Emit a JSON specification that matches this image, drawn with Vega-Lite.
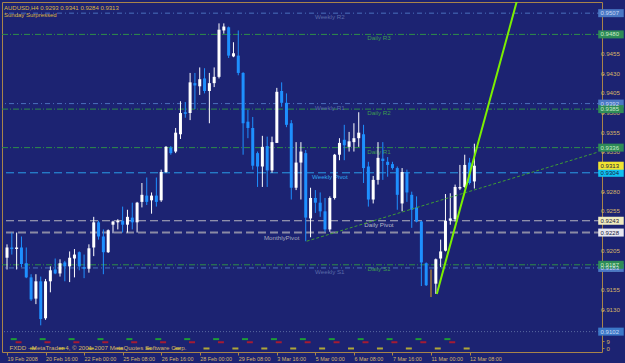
{
"$schema": "https://vega.github.io/schema/vega-lite/v6.json",
"width": 600, "height": 350,
"autosize": {"type": "none"},
"padding": {"left": 2, "top": 2, "right": 23, "bottom": 11},
"background": "#1c2372",
"config": {"view": {"stroke": "#a8844a", "strokeWidth": 1}, "font": "Liberation Sans"},
"title": {"text": ["AUDUSD,H4  0.9293 0.9341 0.9284 0.9313", "Sunday Surpressed"], "anchor": "start", "frame": "group", "offset": -16, "baseline": "top", "fontSize": 6, "fontWeight": "normal", "color": "#dcb444", "lineHeight": 7.5, "dx": 2},
"datasets": {
"candles": [
{"i":0,"o":0.9196,"h":0.9213,"l":0.9181,"c":0.9209},
{"i":1,"o":0.9209,"h":0.9228,"l":0.9200,"c":0.9207},
{"i":2,"o":0.9207,"h":0.9228,"l":0.9181,"c":0.9209},
{"i":3,"o":0.9209,"h":0.9223,"l":0.9184,"c":0.9188},
{"i":4,"o":0.9189,"h":0.9209,"l":0.9170,"c":0.9171},
{"i":5,"o":0.9171,"h":0.9175,"l":0.9141,"c":0.9143},
{"i":6,"o":0.9144,"h":0.9175,"l":0.9137,"c":0.9166},
{"i":7,"o":0.9166,"h":0.9172,"l":0.9110,"c":0.9118},
{"i":8,"o":0.9119,"h":0.9169,"l":0.9117,"c":0.9166},
{"i":9,"o":0.9166,"h":0.9185,"l":0.9152,"c":0.9180},
{"i":10,"o":0.9181,"h":0.9195,"l":0.9175,"c":0.9176},
{"i":11,"o":0.9176,"h":0.9194,"l":0.9172,"c":0.9189},
{"i":12,"o":0.9190,"h":0.9192,"l":0.9166,"c":0.9185},
{"i":13,"o":0.9185,"h":0.9204,"l":0.9165,"c":0.9196},
{"i":14,"o":0.9195,"h":0.9207,"l":0.9171,"c":0.9200},
{"i":15,"o":0.9203,"h":0.9204,"l":0.9180,"c":0.9185},
{"i":16,"o":0.9184,"h":0.9200,"l":0.9170,"c":0.9182},
{"i":17,"o":0.9182,"h":0.9213,"l":0.9177,"c":0.9208},
{"i":18,"o":0.9209,"h":0.9248,"l":0.9198,"c":0.9241},
{"i":19,"o":0.9241,"h":0.9243,"l":0.9219,"c":0.9223},
{"i":20,"o":0.9223,"h":0.9232,"l":0.9175,"c":0.9203},
{"i":21,"o":0.9203,"h":0.9232,"l":0.9202,"c":0.9231},
{"i":22,"o":0.9238,"h":0.9243,"l":0.9227,"c":0.9242},
{"i":23,"o":0.9241,"h":0.9245,"l":0.9232,"c":0.9243},
{"i":24,"o":0.9243,"h":0.9261,"l":0.9228,"c":0.9238},
{"i":25,"o":0.9238,"h":0.9257,"l":0.9228,"c":0.9248},
{"i":26,"o":0.9247,"h":0.9266,"l":0.9232,"c":0.9241},
{"i":27,"o":0.9241,"h":0.9267,"l":0.9228,"c":0.9266},
{"i":28,"o":0.9267,"h":0.9291,"l":0.9260,"c":0.9276},
{"i":29,"o":0.9275,"h":0.9298,"l":0.9263,"c":0.9267},
{"i":30,"o":0.9269,"h":0.9279,"l":0.9252,"c":0.9275},
{"i":31,"o":0.9275,"h":0.9298,"l":0.9261,"c":0.9267},
{"i":32,"o":0.9269,"h":0.9308,"l":0.9267,"c":0.9305},
{"i":33,"o":0.9305,"h":0.9338,"l":0.9304,"c":0.9337},
{"i":34,"o":0.9336,"h":0.9338,"l":0.9327,"c":0.9329},
{"i":35,"o":0.9331,"h":0.9361,"l":0.9329,"c":0.9355},
{"i":36,"o":0.9353,"h":0.9395,"l":0.9347,"c":0.9380},
{"i":37,"o":0.9381,"h":0.9394,"l":0.9374,"c":0.9379},
{"i":38,"o":0.9380,"h":0.9431,"l":0.9371,"c":0.9419},
{"i":39,"o":0.9418,"h":0.9431,"l":0.9385,"c":0.9415},
{"i":40,"o":0.9414,"h":0.9438,"l":0.9403,"c":0.9423},
{"i":41,"o":0.9424,"h":0.9437,"l":0.9405,"c":0.9408},
{"i":42,"o":0.9408,"h":0.9431,"l":0.9367,"c":0.9418},
{"i":43,"o":0.9418,"h":0.9438,"l":0.9413,"c":0.9426},
{"i":44,"o":0.9426,"h":0.9494,"l":0.9424,"c":0.9486},
{"i":45,"o":0.9485,"h":0.9494,"l":0.9481,"c":0.9490},
{"i":46,"o":0.9489,"h":0.9490,"l":0.9450,"c":0.9453},
{"i":47,"o":0.9452,"h":0.9470,"l":0.9451,"c":0.9456},
{"i":48,"o":0.9453,"h":0.9485,"l":0.9428,"c":0.9431},
{"i":49,"o":0.9431,"h":0.9432,"l":0.9327,"c":0.9367},
{"i":50,"o":0.9369,"h":0.9384,"l":0.9348,"c":0.9361},
{"i":51,"o":0.9361,"h":0.9375,"l":0.9308,"c":0.9313},
{"i":52,"o":0.9329,"h":0.9331,"l":0.9286,"c":0.9312},
{"i":53,"o":0.9312,"h":0.9351,"l":0.9286,"c":0.9337},
{"i":54,"o":0.9338,"h":0.9350,"l":0.9286,"c":0.9307},
{"i":55,"o":0.9307,"h":0.9350,"l":0.9304,"c":0.9343},
{"i":56,"o":0.9342,"h":0.9412,"l":0.9342,"c":0.9407},
{"i":57,"o":0.9408,"h":0.9419,"l":0.9388,"c":0.9393},
{"i":58,"o":0.9393,"h":0.9405,"l":0.9362,"c":0.9365},
{"i":59,"o":0.9367,"h":0.9371,"l":0.9270,"c":0.9285},
{"i":60,"o":0.9285,"h":0.9343,"l":0.9282,"c":0.9317},
{"i":61,"o":0.9317,"h":0.9343,"l":0.9270,"c":0.9331},
{"i":62,"o":0.9329,"h":0.9333,"l":0.9217,"c":0.9247},
{"i":63,"o":0.9246,"h":0.9285,"l":0.9222,"c":0.9272},
{"i":64,"o":0.9272,"h":0.9282,"l":0.9253,"c":0.9266},
{"i":65,"o":0.9266,"h":0.9279,"l":0.9248,"c":0.9255},
{"i":66,"o":0.9255,"h":0.9272,"l":0.9229,"c":0.9232},
{"i":67,"o":0.9232,"h":0.9274,"l":0.9229,"c":0.9272},
{"i":68,"o":0.9272,"h":0.9328,"l":0.9270,"c":0.9327},
{"i":69,"o":0.9327,"h":0.9348,"l":0.9320,"c":0.9342},
{"i":70,"o":0.9346,"h":0.9365,"l":0.9320,"c":0.9339},
{"i":71,"o":0.9337,"h":0.9356,"l":0.9331,"c":0.9344},
{"i":72,"o":0.9343,"h":0.9367,"l":0.9331,"c":0.9348},
{"i":73,"o":0.9348,"h":0.9381,"l":0.9337,"c":0.9355},
{"i":74,"o":0.9353,"h":0.9365,"l":0.9291,"c":0.9310},
{"i":75,"o":0.9312,"h":0.9318,"l":0.9261,"c":0.9270},
{"i":76,"o":0.9270,"h":0.9300,"l":0.9265,"c":0.9295},
{"i":77,"o":0.9295,"h":0.9343,"l":0.9289,"c":0.9323},
{"i":78,"o":0.9322,"h":0.9343,"l":0.9295,"c":0.9319},
{"i":79,"o":0.9318,"h":0.9324,"l":0.9299,"c":0.9314},
{"i":80,"o":0.9315,"h":0.9318,"l":0.9308,"c":0.9310},
{"i":81,"o":0.9310,"h":0.9312,"l":0.9257,"c":0.9276},
{"i":82,"o":0.9265,"h":0.9310,"l":0.9255,"c":0.9305},
{"i":83,"o":0.9305,"h":0.9308,"l":0.9267,"c":0.9279},
{"i":84,"o":0.9276,"h":0.9280,"l":0.9234,"c":0.9257},
{"i":85,"o":0.9260,"h":0.9274,"l":0.9241,"c":0.9242},
{"i":86,"o":0.9242,"h":0.9243,"l":0.9160,"c":0.9190},
{"i":87,"o":0.9189,"h":0.9190,"l":0.9160,"c":0.9161},
{"i":88,"o":0.9160,"h":0.9181,"l":0.9146,"c":0.9160},
{"i":89,"o":0.9163,"h":0.9195,"l":0.9150,"c":0.9194},
{"i":90,"o":0.9195,"h":0.9219,"l":0.9184,"c":0.9204},
{"i":91,"o":0.9205,"h":0.9277,"l":0.9204,"c":0.9243},
{"i":92,"o":0.9243,"h":0.9278,"l":0.9238,"c":0.9246},
{"i":93,"o":0.9245,"h":0.9289,"l":0.9242,"c":0.9286},
{"i":94,"o":0.9284,"h":0.9314,"l":0.9282,"c":0.9286},
{"i":95,"o":0.9286,"h":0.9327,"l":0.9285,"c":0.9314},
{"i":96,"o":0.9317,"h":0.9323,"l":0.9289,"c":0.9291},
{"i":97,"o":0.9293,"h":0.9341,"l":0.9284,"c":0.9313}
],
"levels": [
{"name":"Weekly R2","p":0.9507,"k":"weekly"},
{"name":"Daily R3","p":0.9480,"k":"daily"},
{"name":"Weekly R1","p":0.9392,"k":"weekly"},
{"name":"Daily R2","p":0.9385,"k":"daily"},
{"name":"Daily R1","p":0.9336,"k":"daily"},
{"name":"Weekly Pivot","p":0.9304,"k":"wpivot"},
{"name":"Daily Pivot","p":0.9243,"k":"dpivot"},
{"name":"MonthlyPivot","p":0.9228,"k":"mpivot"},
{"name":"Weekly S1","p":0.9183,"k":"weekly"},
{"name":"Daily S1","p":0.9187,"k":"daily"},
{"name":"Monthly S1","p":0.9102,"k":"msup"},
{"name":"Bid","p":0.9313,"k":"bid"}
],
"pticks": [{"p":0.913},{"p":0.9155},{"p":0.918},{"p":0.9205},{"p":0.9255},{"p":0.928},{"p":0.933},{"p":0.9355},{"p":0.938},{"p":0.9405},{"p":0.943},{"p":0.9455}],
"trend": [{"i":89.2,"p":0.9150},{"i":110,"p":0.9616}],
"trend2": [{"i":62.2,"p":0.9217},{"i":122.5,"p":0.9330}],
"ind": [
{"i":1.4,"v":12,"s":"g"},{"i":7.4,"v":12,"s":"g"},{"i":13.4,"v":12,"s":"g"},{"i":19.4,"v":12,"s":"g"},{"i":25.4,"v":12,"s":"g"},{"i":31.4,"v":12,"s":"g"},{"i":37.4,"v":12,"s":"g"},{"i":43.4,"v":12,"s":"g"},{"i":49.4,"v":12,"s":"g"},{"i":55.4,"v":12,"s":"g"},{"i":61.4,"v":12,"s":"g"},{"i":67.4,"v":12,"s":"g"},{"i":73.4,"v":12,"s":"g"},{"i":79.4,"v":12,"s":"g"},{"i":85.4,"v":12,"s":"g"},{"i":91.4,"v":12,"s":"g"},
{"i":2.4,"v":8,"s":"r"},{"i":8.4,"v":8,"s":"r"},{"i":14.4,"v":8,"s":"r"},{"i":20.4,"v":8,"s":"r"},{"i":26.4,"v":8,"s":"r"},{"i":32.4,"v":8,"s":"r"},{"i":38.4,"v":8,"s":"r"},{"i":44.4,"v":8,"s":"r"},{"i":50.4,"v":8,"s":"r"},{"i":56.4,"v":8,"s":"r"},{"i":62.4,"v":8,"s":"r"},{"i":68.4,"v":8,"s":"r"},{"i":74.4,"v":8,"s":"r"},{"i":80.4,"v":8,"s":"r"},{"i":86.4,"v":8,"s":"r"},{"i":92.4,"v":8,"s":"r"},
{"i":5.4,"v":0,"s":"y"},{"i":11.4,"v":0,"s":"y"},{"i":17.4,"v":0,"s":"y"},{"i":23.4,"v":0,"s":"y"},{"i":29.4,"v":0,"s":"y"},{"i":35.4,"v":0,"s":"y"},{"i":41.4,"v":0,"s":"y"},{"i":47.4,"v":0,"s":"y"},{"i":53.4,"v":0,"s":"y"},{"i":59.4,"v":0,"s":"y"},{"i":65.4,"v":0,"s":"y"},{"i":71.4,"v":0,"s":"y"},{"i":77.4,"v":0,"s":"y"},{"i":83.4,"v":0,"s":"y"},{"i":89.4,"v":0,"s":"y"},{"i":95.4,"v":0,"s":"y"}
]
},
"resolve": {"scale": {"y": "independent"}, "axis": {"y": "independent"}},
"layer": [
{
"layer": [
{"data": {"name": "levels"}, "transform": [{"filter": "datum.k == 'daily'"}],
 "mark": {"type": "rule", "color": "#2e8e48", "strokeWidth": 1, "strokeDash": [6, 2, 1, 2]},
 "encoding": {"y": {"field": "p", "type": "quantitative", "scale": {"domain": [0.90761, 0.95212], "nice": false, "zero": false},
   "axis": {"orient": "right", "title": null, "grid": false, "domain": false, "labels": false, "values": [0.913,0.9155,0.918,0.9205,0.923,0.9255,0.928,0.9305,0.933,0.9355,0.938,0.9405,0.943,0.9455,0.948,0.9505], "tickSize": 2, "tickColor": "#a8844a"}}}},
{"data": {"name": "levels"}, "transform": [{"filter": "datum.k == 'weekly'"}],
 "mark": {"type": "rule", "color": "#4a70bc", "strokeWidth": 1, "strokeDash": [5, 3, 1, 3]},
 "encoding": {"y": {"field": "p", "type": "quantitative", "scale": {"domain": [0.90761, 0.95212], "nice": false, "zero": false}}}},
{"data": {"name": "levels"}, "transform": [{"filter": "datum.k == 'msup'"}],
 "mark": {"type": "rule", "color": "#5a6aa0", "strokeWidth": 1, "strokeDash": [1, 2]},
 "encoding": {"y": {"field": "p", "type": "quantitative", "scale": {"domain": [0.90761, 0.95212], "nice": false, "zero": false}}}},
{"data": {"name": "levels"}, "transform": [{"filter": "datum.k == 'wpivot'"}],
 "mark": {"type": "rule", "color": "#2a9ce8", "strokeWidth": 1, "strokeDash": [8, 4]},
 "encoding": {"y": {"field": "p", "type": "quantitative", "scale": {"domain": [0.90761, 0.95212], "nice": false, "zero": false}}}},
{"data": {"name": "levels"}, "transform": [{"filter": "datum.k == 'dpivot'"}],
 "mark": {"type": "rule", "color": "#b4b4c0", "strokeWidth": 1, "strokeDash": [8, 4]},
 "encoding": {"y": {"field": "p", "type": "quantitative", "scale": {"domain": [0.90761, 0.95212], "nice": false, "zero": false}}}},
{"data": {"name": "levels"}, "transform": [{"filter": "datum.k == 'mpivot'"}],
 "mark": {"type": "rule", "color": "#8a8aa4", "strokeWidth": 2, "strokeDash": [8, 4]},
 "encoding": {"y": {"field": "p", "type": "quantitative", "scale": {"domain": [0.90761, 0.95212], "nice": false, "zero": false}}}},
{"data": {"name": "levels"}, "transform": [{"filter": "datum.k == 'weekly' || datum.k == 'wpivot'"}],
 "mark": {"type": "text", "fontSize": 6.2, "align": "center", "baseline": "middle", "dy": 4},
 "encoding": {"x": {"datum": 67, "type": "quantitative", "scale": {"domain": [0, 122.45], "nice": false, "zero": false}},
   "y": {"field": "p", "type": "quantitative", "scale": {"domain": [0.90761, 0.95212], "nice": false, "zero": false}},
   "text": {"field": "name"},
   "color": {"condition": {"test": "datum.k == 'wpivot'", "value": "#30a8f0"}, "value": "#5a6aa8"}}},
{"data": {"name": "levels"}, "transform": [{"filter": "datum.k == 'daily' || datum.k == 'dpivot'"}],
 "mark": {"type": "text", "fontSize": 6.2, "align": "center", "baseline": "middle", "dy": 4},
 "encoding": {"x": {"datum": 77.2, "type": "quantitative", "scale": {"domain": [0, 122.45], "nice": false, "zero": false}},
   "y": {"field": "p", "type": "quantitative", "scale": {"domain": [0.90761, 0.95212], "nice": false, "zero": false}},
   "text": {"field": "name"},
   "color": {"condition": {"test": "datum.k == 'dpivot'", "value": "#b8b8c8"}, "value": "#3c9a50"}}},
{"data": {"name": "levels"}, "transform": [{"filter": "datum.k == 'mpivot'"}],
 "mark": {"type": "text", "fontSize": 6.2, "align": "center", "baseline": "middle", "dy": 5},
 "encoding": {"x": {"datum": 57, "type": "quantitative", "scale": {"domain": [0, 122.45], "nice": false, "zero": false}},
   "y": {"field": "p", "type": "quantitative", "scale": {"domain": [0.90761, 0.95212], "nice": false, "zero": false}},
   "text": {"field": "name"}, "color": {"value": "#a8a8bc"}}},
{"data": {"name": "candles"},
 "mark": {"type": "rule", "strokeWidth": 1},
 "encoding": {"x": {"field": "i", "type": "quantitative", "scale": {"domain": [0, 122.45], "nice": false, "zero": false},
   "axis": {"values": [0,8,16,24,32,40,48,56,64,72,80,88,96], "labelExpr": "['19 Feb 2008','20 Feb 16:00','22 Feb 00:00','25 Feb 08:00','26 Feb 16:00','28 Feb 00:00','29 Feb 08:00','3 Mar 16:00','5 Mar 00:00','6 Mar 08:00','7 Mar 16:00','11 Mar 00:00','12 Mar 08:00'][round(datum.value/8)]", "labelAlign": "left", "labelBaseline": "top", "labelPadding": 1, "tickSize": 3, "tickColor": "#a8844a", "domain": false, "grid": false, "title": null, "labelColor": "#d4b468", "labelFontSize": 5.4, "labelFlush": false, "labelOverlap": false, "labelBound": false}},
   "y": {"field": "l", "type": "quantitative", "scale": {"domain": [0.90761, 0.95212], "nice": false, "zero": false}},
   "y2": {"field": "h"},
   "color": {"condition": [{"test": "datum.c == datum.o", "value": "#e0a020"}, {"test": "datum.c > datum.o", "value": "#ffffff"}], "value": "#1e90ff"}}},
{"data": {"name": "candles"},
 "mark": {"type": "bar", "size": 3},
 "encoding": {"x": {"field": "i", "type": "quantitative", "scale": {"domain": [0, 122.45], "nice": false, "zero": false}},
   "y": {"field": "o", "type": "quantitative", "scale": {"domain": [0.90761, 0.95212], "nice": false, "zero": false}},
   "y2": {"field": "c"},
   "color": {"condition": [{"test": "datum.c == datum.o", "value": "#e0a020"}, {"test": "datum.c > datum.o", "value": "#ffffff"}], "value": "#1e90ff"}}},
{"data": {"name": "trend2"},
 "mark": {"type": "line", "color": "#3e9c34", "strokeWidth": 1, "strokeDash": [3, 2], "clip": true},
 "encoding": {"x": {"field": "i", "type": "quantitative", "scale": {"domain": [0, 122.45], "nice": false, "zero": false}},
   "y": {"field": "p", "type": "quantitative", "scale": {"domain": [0.90761, 0.95212], "nice": false, "zero": false}}}},
{"data": {"name": "trend"},
 "mark": {"type": "line", "color": "#7cf000", "strokeWidth": 2, "clip": true},
 "encoding": {"x": {"field": "i", "type": "quantitative", "scale": {"domain": [0, 122.45], "nice": false, "zero": false}},
   "y": {"field": "p", "type": "quantitative", "scale": {"domain": [0.90761, 0.95212], "nice": false, "zero": false}}}},
{"data": {"name": "pticks"},
 "mark": {"type": "text", "fontSize": 6.2, "align": "left", "baseline": "middle", "dx": 4, "color": "#d4b468"},
 "encoding": {"x": {"datum": 122.45, "type": "quantitative", "scale": {"domain": [0, 122.45], "nice": false, "zero": false}},
   "y": {"field": "p", "type": "quantitative", "scale": {"domain": [0.90761, 0.95212], "nice": false, "zero": false}},
   "text": {"field": "p", "type": "quantitative", "format": ".4f"}}},
{"data": {"name": "levels"},
 "mark": {"type": "rule", "strokeWidth": 8},
 "encoding": {"x": {"datum": 122.7, "type": "quantitative", "scale": {"domain": [0, 122.45], "nice": false, "zero": false}},
   "x2": {"datum": 128},
   "y": {"field": "p", "type": "quantitative", "scale": {"domain": [0.90761, 0.95212], "nice": false, "zero": false}},
   "color": {"condition": [
     {"test": "datum.k == 'daily'", "value": "#2e8b57"},
     {"test": "datum.k == 'weekly'", "value": "#4a78c4"},
     {"test": "datum.k == 'msup'", "value": "#3c78c8"},
     {"test": "datum.k == 'wpivot'", "value": "#10c0f0"},
     {"test": "datum.k == 'dpivot'", "value": "#f0ecc0"},
     {"test": "datum.k == 'mpivot'", "value": "#e8e8f0"}], "value": "#f0e430"}}},
{"data": {"name": "levels"},
 "mark": {"type": "text", "fontSize": 6, "align": "left", "baseline": "middle"},
 "encoding": {"x": {"datum": 123.2, "type": "quantitative", "scale": {"domain": [0, 122.45], "nice": false, "zero": false}},
   "y": {"field": "p", "type": "quantitative", "scale": {"domain": [0.90761, 0.95212], "nice": false, "zero": false}},
   "text": {"field": "p", "type": "quantitative", "format": ".4f"},
   "color": {"condition": [
     {"test": "datum.k == 'daily'", "value": "#c8ecc8"},
     {"test": "datum.k == 'weekly' || datum.k == 'msup'", "value": "#c8d8f4"}], "value": "#182040"}}},
{"mark": {"type": "rule", "color": "#a8844a", "strokeWidth": 1},
 "encoding": {"y": {"datum": 0.9099, "type": "quantitative", "scale": {"domain": [0.90761, 0.95212], "nice": false, "zero": false}}}}
]
},
{
"layer": [
{"mark": {"type": "rule", "color": "#a8844a", "strokeWidth": 1},
 "encoding": {"y": {"datum": 16, "type": "quantitative", "scale": {"domain": [-4.5, 16], "range": [350, 334], "nice": false, "zero": false},
   "axis": {"orient": "right", "title": null, "grid": false, "domain": false, "values": [0, 9], "labelColor": "#d4b468", "labelFontSize": 6, "labelPadding": 2, "tickSize": 2, "tickColor": "#a8844a", "labelOverlap": false, "labelFlush": false, "labelBound": false}}}},
{"data": {"name": "ind"},
 "mark": {"type": "tick", "orient": "horizontal", "size": 6, "thickness": 2},
 "encoding": {"x": {"field": "i", "type": "quantitative", "scale": {"domain": [0, 122.45], "nice": false, "zero": false}},
   "y": {"field": "v", "type": "quantitative", "scale": {"domain": [-4.5, 16], "range": [350, 334], "nice": false, "zero": false}},
   "color": {"condition": [{"test": "datum.s == 'g'", "value": "#20d020"}, {"test": "datum.s == 'r'", "value": "#e01818"}], "value": "#f0e020"}}},
{"data": {"values": [{"t": "FXDD - MetaTrader 4, © 2001-2007 MetaQuotes Software Corp.", "v": 1.2}]},
 "mark": {"type": "text", "fontSize": 6.2, "align": "left", "baseline": "middle", "color": "#d4b468"},
 "encoding": {"x": {"datum": 0.5, "type": "quantitative", "scale": {"domain": [0, 122.45], "nice": false, "zero": false}},
   "y": {"field": "v", "type": "quantitative", "scale": {"domain": [-4.5, 16], "range": [350, 334], "nice": false, "zero": false}},
   "text": {"field": "t"}}}
]
}
]
}
